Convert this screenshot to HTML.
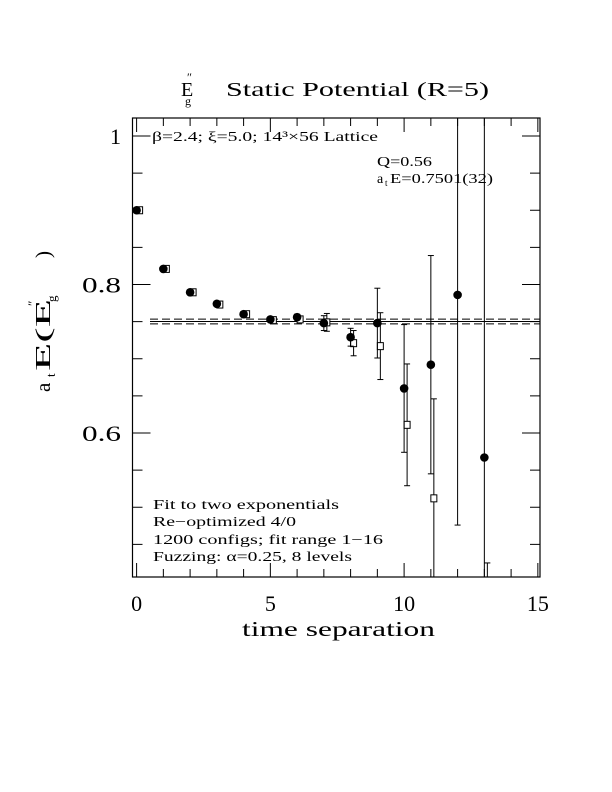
<!DOCTYPE html>
<html><head><meta charset="utf-8"><style>
html,body{margin:0;padding:0;background:#fff;}
svg{display:block;font-family:"Liberation Serif",serif;}
</style></head><body>
<svg id="chart" width="612" height="792" viewBox="0 0 612 792" xmlns="http://www.w3.org/2000/svg">
<g>
<text x="181" y="96" font-size="20">E</text>
<text x="187" y="81" font-size="12">″</text>
<text x="185" y="105" font-size="12">g</text>
<text x="226" y="96" font-size="20" textLength="263" lengthAdjust="spacingAndGlyphs">Static Potential (R=5)</text>
</g>
<rect x="132.5" y="118" width="407.5" height="459" fill="none" stroke="#000" stroke-width="1.2"/>
<g id="ticks"></g>
<g id="fit"></g>
<g id="marks"></g>
<text x="152" y="141" font-size="14" textLength="226" lengthAdjust="spacingAndGlyphs">β=2.4; ξ=5.0; 14³×56 Lattice</text>
<text x="377" y="166" font-size="14" textLength="55" lengthAdjust="spacingAndGlyphs">Q=0.56</text>
<g font-size="14">
<text x="377" y="183">a</text>
<text x="385" y="186" font-size="9">t</text>
<text x="390" y="183" textLength="103" lengthAdjust="spacingAndGlyphs">E=0.7501(32)</text>
</g>
<g font-size="14">
<text x="153" y="509" textLength="186" lengthAdjust="spacingAndGlyphs">Fit to two exponentials</text>
<text x="153" y="526" textLength="143" lengthAdjust="spacingAndGlyphs">Re−optimized 4/0</text>
<text x="153" y="544" textLength="230" lengthAdjust="spacingAndGlyphs">1200 configs; fit range 1−16</text>
<text x="153" y="561" textLength="199" lengthAdjust="spacingAndGlyphs">Fuzzing: α=0.25, 8 levels</text>
</g>
<text x="242" y="636" font-size="21" textLength="193" lengthAdjust="spacingAndGlyphs">time separation</text>
<g transform="translate(50,392) rotate(-90)" font-size="21">
<text x="0" y="0">a</text>
<text x="15" y="5" font-size="13">t</text>
<text x="21" y="0" textLength="72" lengthAdjust="spacingAndGlyphs">E(E</text>
<text x="86" y="-13" font-size="13">″</text>
<text x="90" y="6" font-size="13">g</text>
<text x="134" y="0">)</text>
</g>
</svg>
<script>
const times=[0,1,2,3,4,5,6,7,8,9,10,11,12,13];
const circleVals=[0.900,0.821,0.7895,0.774,0.760,0.753,0.756,0.748,0.729,0.748,0.660,0.692,0.786,0.567];
const circleErrs=[0.003,0.003,0.003,0.003,0.003,0.003,0.004,0.010,0.012,0.047,0.086,0.147,0.31,0.5];
const squareVals=[0.900,0.821,0.7895,0.773,0.760,0.752,0.753,0.749,0.721,0.717,0.611,0.512,null,0.38];
const squareErrs=[0.003,0.003,0.003,0.003,0.003,0.003,0.004,0.012,0.017,0.045,0.082,0.134,null,0.045];
const fitValue=0.7501, fitErr=0.0032;
const xTickLabels=[0,5,10,15];
const yTickLabels=[0.6,0.8,1];

const NS='http://www.w3.org/2000/svg';
const L=132.5,R=540,T=118,B=577;
const xs=t=>136.6+26.75*t;
const ys=v=>136+(1-v)*742.5;
const clip=y=>Math.max(T,Math.min(B,y));
function mk(parent,tag,attrs){const e=document.createElementNS(NS,tag);for(const k in attrs)e.setAttribute(k,attrs[k]);parent.appendChild(e);return e;}
const tk=document.getElementById('ticks');
for(let t=0;t<=15;t++){
  const x=xs(t),len=(t%5===0)?14:8;
  const a=mk(tk,'line',{x1:x,x2:x,y1:B,y2:B-len,stroke:'#000'});
  
  
  const b=mk(tk,'line',{x1:x,x2:x,y1:T,y2:T+len,stroke:'#000'});
  
  
}
xTickLabels.forEach(v=>{
  const e=mk(tk,'text',{x:xs(v),y:611,'font-size':22,'text-anchor':'middle'});
  e.textContent=String(v);
  
  
});
for(let i=0;i<=12;i++){
  const v=0.4+0.05*i; const y=ys(v); if(y<T||y>B)continue;
  const major=Math.abs(v*10-Math.round(v*10))<1e-6&&Math.round(v*10)%2===0;
  const len=major?18:10;
  const a=mk(tk,'line',{x1:L,x2:L+len,y1:y,y2:y,stroke:'#000'});
  
  
  const b=mk(tk,'line',{x1:R,x2:R-len,y1:y,y2:y,stroke:'#000'});
  
  
}
yTickLabels.forEach(v=>{
  const e=mk(tk,'text',{x:121,y:ys(v)+8,'font-size':22,'text-anchor':'end'});
  e.textContent=String(v);
  if(v!==1){e.setAttribute('textLength','39');e.setAttribute('lengthAdjust','spacingAndGlyphs');}
  
  
});
const fg=document.getElementById('fit');
[[fitValue+fitErr,'8,4'],[fitValue,null],[fitValue-fitErr,'8,4']].forEach(([v,d])=>{
  const a={x1:150,x2:R,y1:ys(v),y2:ys(v),stroke:'#000','stroke-width':1};
  if(d)a['stroke-dasharray']=d;
  const e=mk(fg,'line',a);
  
  
});
const mg=document.getElementById('marks');
function errbar(x,v,err,name){
  const y1=ys(v+err),y2=ys(v-err);
  const e=mk(mg,'line',{x1:x,x2:x,y1:clip(y1),y2:clip(y2),stroke:'#000'});
  
  
  [y1,y2].forEach(y=>{if(y>=T&&y<=B){const c=mk(mg,'line',{x1:x-3,x2:x+3,y1:y,y2:y,stroke:'#000'});
    
    }});
}
times.forEach((t,i)=>{
  const v=squareVals[i]; if(v===null)return;
  const x=xs(t)+3;
  errbar(x,v,squareErrs[i],'square-error-bar');
  const y=ys(v); if(y>B||y<T)return;
  const s=mk(mg,'rect',{x:x-3,y:y-3.5,width:6,height:7,fill:'#fff',stroke:'#000'});
  
  
});
times.forEach((t,i)=>{
  const v=circleVals[i],x=xs(t);
  errbar(x,v,circleErrs[i],'circle-error-bar');
  const c=mk(mg,'circle',{cx:x,cy:ys(v),r:4.3,fill:'#000'});
  
  
});
</script>
</body></html>
